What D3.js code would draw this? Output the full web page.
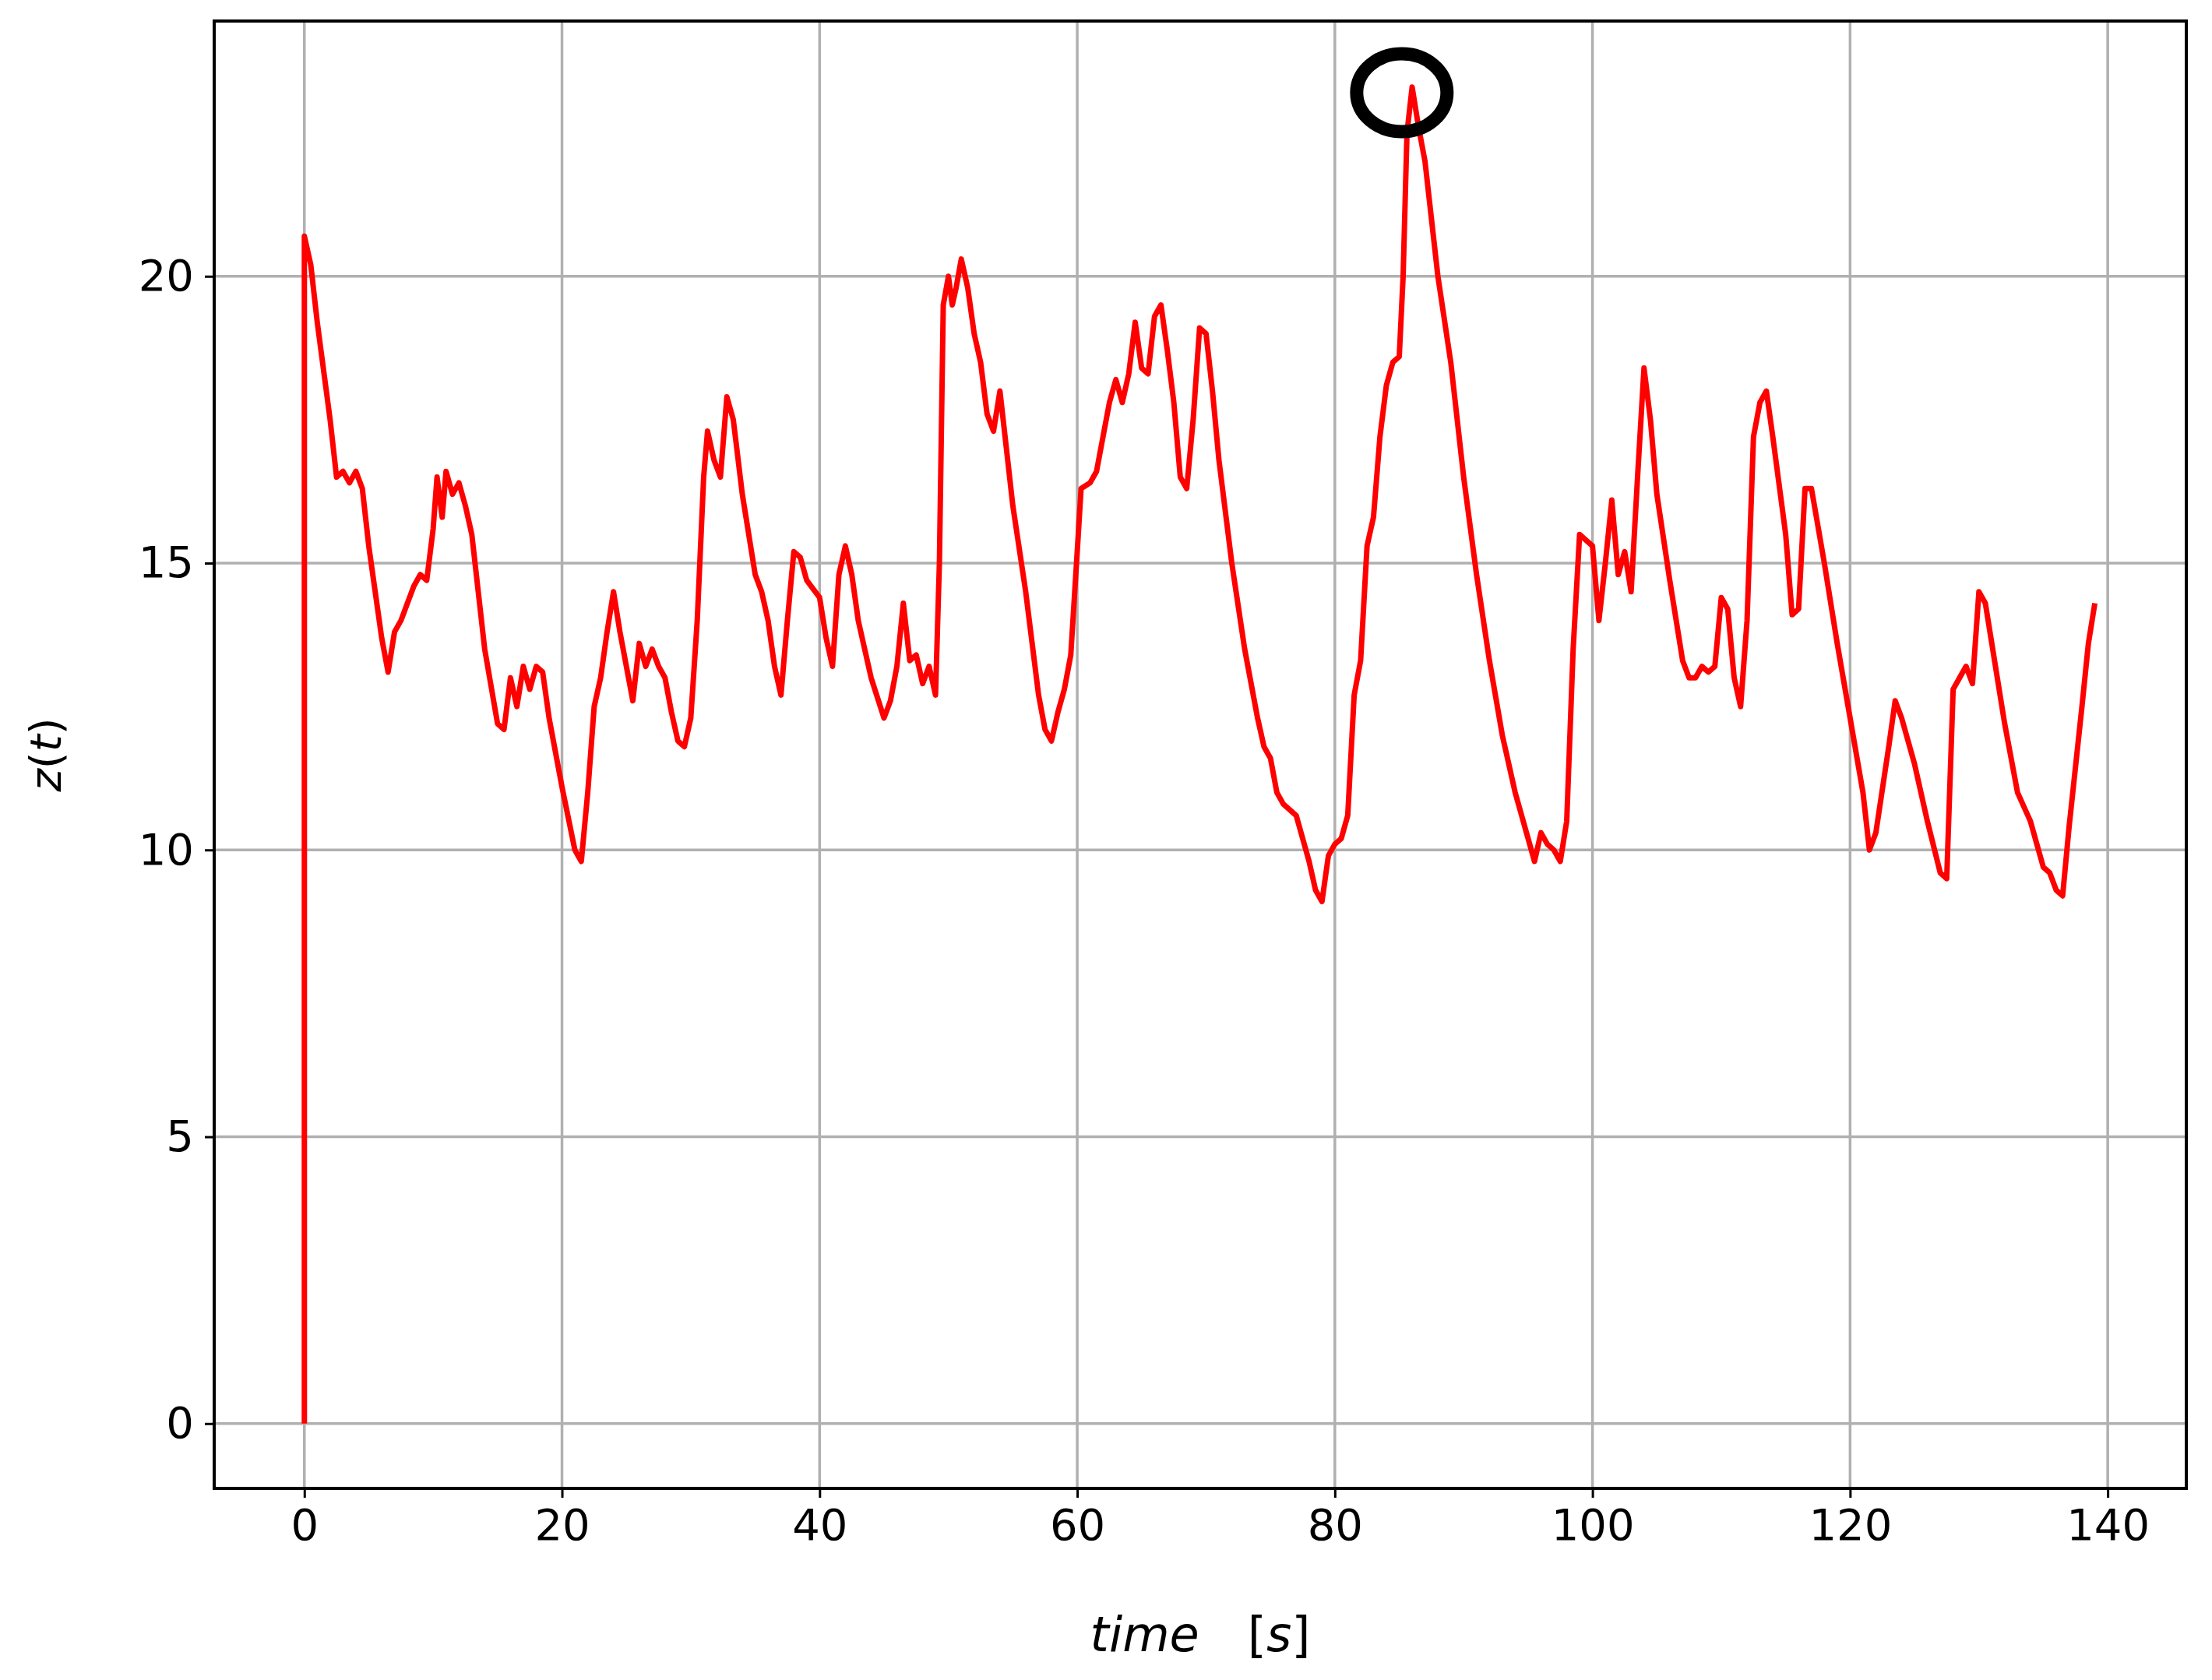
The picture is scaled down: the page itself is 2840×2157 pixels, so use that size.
<!DOCTYPE html>
<html>
<head>
<meta charset="utf-8">
<title>z(t)</title>
<style>
  html, body { margin: 0; padding: 0; background: #fff; }
  svg { display: block; font-family: 'DejaVu Sans', sans-serif; }
</style>
</head>
<body>
<svg id="chart" width="2840" height="2157"></svg>
<script src="https://cdn.jsdelivr.net/npm/d3@7"></script>
<script>
var times = [0,0,0.5,1,2,2.5,3,3.5,4,4.5,5,6,6.5,7,7.5,8,8.5,9,9.5,10,10.3,10.7,11,11.5,12,12.5,13,14,15,15.5,16,16.5,17,17.5,18,18.5,19,20,21,21.5,22,22.5,23,23.5,24,24.5,25,25.5,26,26.5,27,27.5,28,28.5,29,29.5,30,30.5,31,31.3,31.8,32.3,32.8,33.3,34,35,35.5,36,36.5,37,37.5,38,38.5,39,40,40.5,41,41.5,42,42.5,43,44,45,45.5,46,46.5,47,47.5,48,48.5,49,49.3,49.6,50,50.3,50.6,51,51.5,52,52.5,53,53.5,54,54.5,55,56,57,57.5,58,58.5,59,59.5,60,60.3,61,61.5,62,62.5,63,63.5,64,64.5,65,65.5,66,66.5,67,67.5,68,68.5,69,69.5,70,70.5,71,72,73,74,74.5,75,75.5,76,77,78,78.5,79,79.5,80,80.5,81,81.5,82,82.5,83,83.5,84,84.5,85,85.3,85.6,86,86.5,87,88,89,90,91,92,93,94,95,95.5,96,96.5,97,97.5,98,98.5,99,99.5,100,100.5,101,101.5,102,102.5,103,103.5,104,104.5,105,106,107,107.5,108,108.5,109,109.5,110,110.5,111,111.5,112,112.5,113,113.5,114,115,115.5,116,116.5,117,118,119,120,121,121.5,122,123,123.5,124,125,126,127,127.5,128,128.5,129,129.5,130,130.5,131,132,133,134,135,135.5,136,136.5,137,138,138.5,139];
var values = [0,20.7,20.2,19.2,17.5,16.5,16.6,16.4,16.6,16.3,15.3,13.7,13.1,13.8,14,14.3,14.6,14.8,14.7,15.6,16.5,15.8,16.6,16.2,16.4,16.0,15.5,13.5,12.2,12.1,13,12.5,13.2,12.8,13.2,13.1,12.3,11.1,10,9.8,11,12.5,13,13.8,14.5,13.8,13.2,12.6,13.6,13.2,13.5,13.2,13,12.4,11.9,11.8,12.3,14,16.5,17.3,16.8,16.5,17.9,17.5,16.2,14.8,14.5,14,13.2,12.7,14,15.2,15.1,14.7,14.4,13.7,13.2,14.8,15.3,14.8,14,13,12.3,12.6,13.2,14.3,13.3,13.4,12.9,13.2,12.7,15,19.5,20,19.5,19.8,20.3,19.8,19,18.5,17.6,17.3,18,17,16,14.5,12.7,12.1,11.9,12.4,12.8,13.4,15.2,16.3,16.4,16.6,17.2,17.8,18.2,17.8,18.3,19.2,18.4,18.3,19.3,19.5,18.7,17.8,16.5,16.3,17.5,19.1,19,18,16.8,15,13.5,12.3,11.8,11.6,11,10.8,10.6,9.8,9.3,9.1,9.9,10.1,10.2,10.6,12.7,13.3,15.3,15.8,17.2,18.1,18.5,18.6,20,22.5,23.3,22.6,22,20,18.5,16.5,14.8,13.3,12,11,10.2,9.8,10.3,10.1,10,9.8,10.5,13.5,15.5,15.4,15.3,14,15,16.1,14.8,15.2,14.5,16.5,18.4,17.5,16.2,14.7,13.3,13,13,13.2,13.1,13.2,14.4,14.2,13,12.5,14,17.2,17.8,18,17.2,15.5,14.1,14.2,16.3,16.3,15,13.6,12.3,11,10,10.3,11.8,12.6,12.3,11.5,10.5,9.6,9.5,12.8,13,13.2,12.9,14.5,14.3,13.6,12.2,11,10.5,9.7,9.6,9.3,9.2,10.4,12.5,13.6,14.3];
var xTicks = [0,20,40,60,80,100,120,140];
var yTicks = [0,5,10,15,20];
var peak = [85.2, 23.2];

var svg = d3.select('#chart');
var mLeft = 275, mRight = 2807, mTop = 27, mBottom = 1911;
var x = d3.scaleLinear().domain([-7, 146.1]).range([mLeft, mRight]);
var y = d3.scaleLinear().domain([-1.13, 24.45]).range([mBottom, mTop]);

// grid
svg.append('g').selectAll('line').data(xTicks).join('line')
  .attr('x1', d => x(d)).attr('x2', d => x(d)).attr('y1', mTop).attr('y2', mBottom)
  .attr('stroke', '#b0b0b0').attr('stroke-width', 3.5);
svg.append('g').selectAll('line').data(yTicks).join('line')
  .attr('y1', d => y(d)).attr('y2', d => y(d)).attr('x1', mLeft).attr('x2', mRight)
  .attr('stroke', '#b0b0b0').attr('stroke-width', 3.5);

// axes
var xAxis = svg.append('g').attr('transform', 'translate(0,' + mBottom + ')')
  .call(d3.axisBottom(x).tickValues(xTicks).tickSize(12).tickPadding(14));
var yAxis = svg.append('g').attr('transform', 'translate(' + mLeft + ',0)')
  .call(d3.axisLeft(y).tickValues(yTicks).tickSize(12).tickPadding(14));
[xAxis, yAxis].forEach(function (a) {
  a.select('.domain').remove();
  a.selectAll('line').attr('stroke', '#000').attr('stroke-width', 3);
  a.selectAll('text').attr('font-size', 56).attr('fill', '#000')
    .attr('font-family', "'DejaVu Sans', sans-serif");
});

// line
var line = d3.line().x((d, i) => x(times[i])).y(d => y(d));
svg.append('path').datum(values).attr('d', line)
  .attr('fill', 'none').attr('stroke', '#ff0000').attr('stroke-width', 7)
  .attr('stroke-linejoin', 'round');

// frame
svg.append('rect').attr('x', mLeft).attr('y', mTop)
  .attr('width', mRight - mLeft).attr('height', mBottom - mTop)
  .attr('fill', 'none').attr('stroke', '#000').attr('stroke-width', 4);

// peak marker
svg.append('ellipse').attr('cx', x(peak[0])).attr('cy', y(peak[1]))
  .attr('rx', 58).attr('ry', 50)
  .attr('fill', 'none').attr('stroke', '#000').attr('stroke-width', 17);

// labels
svg.append('text').attr('x', (mLeft + mRight) / 2).attr('y', 2120)
  .attr('text-anchor', 'middle').attr('font-size', 62)
  .html('<tspan font-style="italic">time</tspan>\u2003[<tspan font-style="italic">s</tspan>]');
svg.append('text').attr('transform', 'translate(78,' + (mTop + mBottom) / 2 + ') rotate(-90)')
  .attr('text-anchor', 'middle').attr('font-size', 56)
  .html('<tspan font-style="italic">z</tspan>(<tspan font-style="italic">t</tspan>)');
</script>
</body>
</html>
